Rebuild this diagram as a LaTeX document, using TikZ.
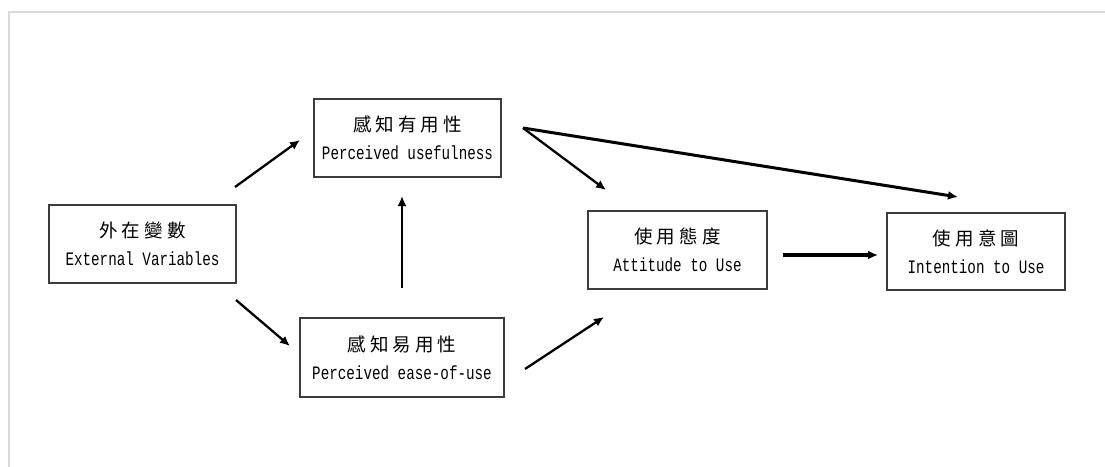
\documentclass[tikz,border=0pt]{standalone}
\usepackage{fontspec}
\setmonofont[FakeStretch=0.75]{Liberation Mono}
\newfontfamily\cjk[LetterSpace=22]{Noto Sans CJK TC}
\usepackage{tikz}
\usetikzlibrary{positioning, arrows.meta}

\definecolor{framegray}{RGB}{218,218,218}
\definecolor{boxgray}{RGB}{60,60,60}

\tikzset{
  tamblock/.style={draw=boxgray, line width=1.3pt, rectangle, align=center,
    inner sep=0pt, font=\ttfamily\fontsize{19}{28}\selectfont},
  tamarrow/.style={draw=black, line width=2.3pt,
    -{Latex[length=10pt,width=9pt]}},
}
\newcommand{\zh}[1]{{\cjk\fontsize{18.5}{18}\selectfont #1}}

\begin{document}
\begin{tikzpicture}[x=1pt,y=-1pt]
\useasboundingbox (0,0) rectangle (1105,466);
\draw[framegray, line width=1.5pt] (9,470) |- (1110,12);

% the five blocks
\node[tamblock, minimum width=187pt, minimum height=78pt] (ext) at (142.5,244)
  {\zh{外在變數}\\External Variables};
\node[tamblock, minimum width=187pt, minimum height=78pt] (pu) at (407.5,138)
  {\zh{感知有用性}\\Perceived usefulness};
\node[tamblock, minimum width=204pt, minimum height=79pt] (peou) at (402,357.5)
  {\zh{感知易用性}\\Perceived ease-of-use};
\node[tamblock, minimum width=179pt, minimum height=78pt] (att) at (677.5,250)
  {\zh{使用態度}\\Attitude to Use};
\node[tamblock, minimum width=178pt, minimum height=77pt] (int) at (976,251.5)
  {\zh{使用意圖}\\Intention to Use};

% arrow ends
\coordinate (ext-up) at (235,187);
\coordinate (pu-in) at (300,140);
\coordinate (ext-dn) at (236,300);
\coordinate (peou-in) at (290,346);
\coordinate (peou-up) at (402,288);
\coordinate (pu-bot) at (402,196);
\coordinate (peou-out) at (525,369);
\coordinate (att-bot) at (604,317);
\coordinate (pu-out) at (523,128);
\coordinate (att-top) at (606,190);
\coordinate (int-top) at (958,197);
\coordinate (att-out) at (783,255);
\coordinate (int-in) at (878,255);

\draw[tamarrow] (ext-up) -- (pu-in);
\draw[tamarrow] (ext-dn) -- (peou-in);
\draw[tamarrow] (peou-up) -- (pu-bot);
\draw[tamarrow] (peou-out) -- (att-bot);
\draw[tamarrow] (pu-out) -- (att-top);
\draw[tamarrow, line width=3pt] (pu-out) -- (int-top);
\draw[tamarrow, line width=3.3pt] (att-out) -- (int-in);
\end{tikzpicture}
\end{document}
